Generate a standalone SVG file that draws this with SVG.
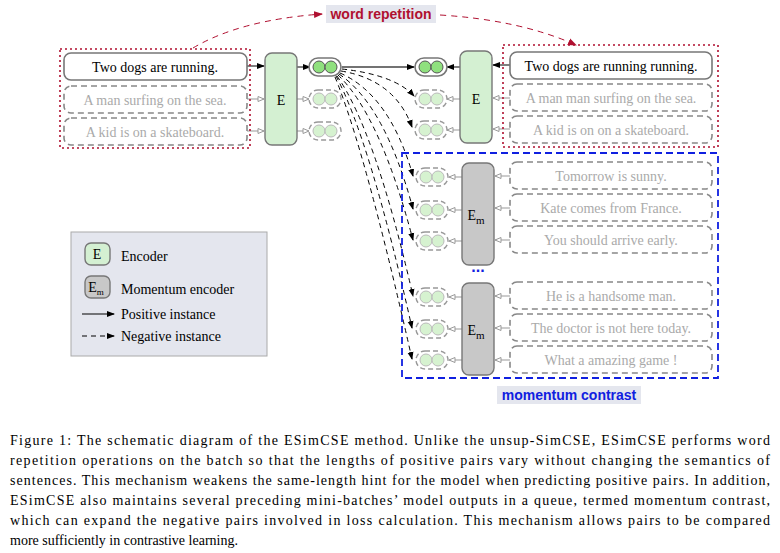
<svg xmlns="http://www.w3.org/2000/svg" xmlns:xlink="http://www.w3.org/1999/xlink" width="780" height="553" viewBox="0 0 780 553">
<style>
.s{font-family:"Liberation Serif",serif;font-size:14px;text-anchor:middle}
.sb{fill:#fff;stroke:#777;stroke-width:1.6}
.sd{fill:#fff;stroke:#888;stroke-width:1.6;stroke-dasharray:6,4}
.g{fill:#aaa}
.enc{fill:#d4f0d2;stroke:#777;stroke-width:1.4}
.em{fill:#c8c8c8;stroke:#777;stroke-width:1.4}
.cap{font-family:"Liberation Serif",serif;font-size:14px;fill:#000}
.sm{stroke:#888;stroke-width:1;fill:none}
</style>
<defs>
<marker id="ab" markerWidth="8" markerHeight="8" refX="7" refY="4" orient="auto" markerUnits="userSpaceOnUse"><path d="M0,1 L8,4 L0,7z" fill="#000"/></marker>
<marker id="ao" markerWidth="8" markerHeight="8" refX="7" refY="4" orient="auto" markerUnits="userSpaceOnUse"><path d="M1,1.5 L7,4 L1,6.5z" fill="#fff" stroke="#999"/></marker>
<marker id="ar" markerWidth="9" markerHeight="9" refX="8" refY="4.5" orient="auto" markerUnits="userSpaceOnUse"><path d="M0,1 L9,4.5 L0,8z" fill="#b01030"/></marker>
<g id="pp"><rect x="0" y="-9" width="32" height="18" rx="9" fill="#fff" stroke="#777" stroke-width="1.6"/><circle cx="10" cy="0" r="6" fill="#8fe07e" stroke="#555"/><circle cx="22" cy="0" r="6" fill="#8fe07e" stroke="#555"/></g>
<g id="pf"><rect x="0" y="-9" width="32" height="18" rx="9" fill="none" stroke="#999" stroke-width="1.4" stroke-dasharray="5,3"/><circle cx="10" cy="0" r="6" fill="#d6f2d0" stroke="#bbb"/><circle cx="22" cy="0" r="6" fill="#d6f2d0" stroke="#bbb"/></g>
</defs>
<rect width="780" height="553" fill="#fff"/>

<g id="connectors" fill="none">
<path d="M193,48 Q240,20 322,14" stroke="#b01030" stroke-dasharray="6,5" marker-end="url(#ar)"/>
<path d="M440,15 Q520,20 576,45" stroke="#b01030" stroke-dasharray="6,5" marker-end="url(#ar)"/>
<path d="M247,66 L264,66" stroke="#000" marker-end="url(#ab)"/>
<path d="M297,67 L310,67" stroke="#000" marker-end="url(#ab)"/>
<path d="M342,67 L414,67" stroke="#444" stroke-width="1.3" marker-end="url(#ab)"/>
<path d="M460,67 L447,67" stroke="#000" marker-end="url(#ab)"/>
<path d="M510,65 L493,65" stroke="#000" marker-end="url(#ab)"/>
<g stroke="#999"><path d="M247,99 L264,99" marker-end="url(#ao)"/><path d="M247,131 L264,131" marker-end="url(#ao)"/>
<path d="M297,99 L309,99" marker-end="url(#ao)"/><path d="M297,131 L309,131" marker-end="url(#ao)"/>
<path d="M460,99 L447,99" marker-end="url(#ao)"/><path d="M460,130 L447,130" marker-end="url(#ao)"/>
<path d="M510,98 L493,98" marker-end="url(#ao)"/><path d="M510,129 L493,129" marker-end="url(#ao)"/>
<path d="M462,177 L449,177" marker-end="url(#ao)"/><path d="M462,210 L449,210" marker-end="url(#ao)"/><path d="M462,241 L449,241" marker-end="url(#ao)"/>
<path d="M462,297 L449,297" marker-end="url(#ao)"/><path d="M462,329 L449,329" marker-end="url(#ao)"/><path d="M462,360 L449,360" marker-end="url(#ao)"/>
<path d="M510,176 L495,176" marker-end="url(#ao)"/><path d="M510,208 L495,208" marker-end="url(#ao)"/><path d="M510,240 L495,240" marker-end="url(#ao)"/>
<path d="M510,296 L495,296" marker-end="url(#ao)"/><path d="M510,328 L495,328" marker-end="url(#ao)"/><path d="M510,360 L495,360" marker-end="url(#ao)"/>
</g>
<g stroke="#000" stroke-dasharray="5,4">
<path d="M342,69 Q395,75 414,96" marker-end="url(#ab)"/>
<path d="M341,71 Q395,80 412,127" marker-end="url(#ab)"/>
<path d="M340,73 Q390,95 413,176" marker-end="url(#ab)"/>
<path d="M339,74 Q385,105 413,209" marker-end="url(#ab)"/>
<path d="M338,75 Q380,115 413,240" marker-end="url(#ab)"/>
<path d="M337,76 Q375,130 413,296" marker-end="url(#ab)"/>
<path d="M336,76 Q370,140 412,328" marker-end="url(#ab)"/>
<path d="M335,77 Q365,150 412,359" marker-end="url(#ab)"/>
</g>
</g>

<g id="word-repetition"><rect x="326" y="5" width="110" height="18" fill="#e4e6ee"/><text x="381" y="19" font-family="Liberation Sans,sans-serif" font-weight="bold" font-size="14" fill="#b01030" text-anchor="middle">word repetition</text></g>

<g id="left-batch">
<rect x="60" y="49" width="190" height="99" fill="none" stroke="#b01030" stroke-width="1.6" stroke-dasharray="2,3"/>
<rect class="sb" x="64" y="53" width="183" height="27" rx="7"/><text class="s" x="155" y="72">Two dogs are running.</text>
<rect class="sd" x="64" y="86" width="183" height="27" rx="7"/><text class="s g" x="155" y="105">A man surfing on the sea.</text>
<rect class="sd" x="64" y="118" width="183" height="27" rx="7"/><text class="s g" x="155" y="137">A kid is on a skateboard.</text>
</g>
<g id="encoder-left"><rect class="enc" x="265" y="53" width="32" height="92" rx="7"/><text class="s" x="281" y="105" font-size="20">E</text></g>
<g id="pairs-left"><use href="#pp" x="309" y="67"/><use href="#pf" x="309" y="99"/><use href="#pf" x="309" y="131"/></g>

<g id="pairs-right"><use href="#pp" x="415" y="67"/><use href="#pf" x="415" y="99"/><use href="#pf" x="415" y="130"/></g>
<g id="encoder-right"><rect class="enc" x="460" y="51" width="32" height="92" rx="7"/><text class="s" x="476" y="104" font-size="20">E</text></g>
<g id="right-batch">
<rect x="503" y="45" width="215" height="102" fill="none" stroke="#b01030" stroke-width="1.6" stroke-dasharray="2,3"/>
<rect class="sb" x="510" y="52" width="202" height="27" rx="7"/><text class="s" x="611" y="71">Two dogs are running running.</text>
<rect class="sd" x="510" y="84" width="202" height="27" rx="7"/><text class="s g" x="611" y="103">A man man surfing on the sea.</text>
<rect class="sd" x="510" y="116" width="202" height="27" rx="7"/><text class="s g" x="611" y="135">A kid is on on a skateboard.</text>
</g>

<g id="momentum">
<rect x="402" y="153" width="316" height="225" fill="none" stroke="#1020e0" stroke-width="1.8" stroke-dasharray="7,4"/>
<use href="#pf" x="416" y="177"/><use href="#pf" x="416" y="210"/><use href="#pf" x="416" y="241"/>
<use href="#pf" x="416" y="297"/><use href="#pf" x="416" y="329"/><use href="#pf" x="416" y="360"/>
<rect class="em" x="462" y="163" width="32" height="102" rx="7"/><text class="s" x="476" y="220" font-size="20">E<tspan font-size="11" dy="4">m</tspan></text>
<rect class="em" x="462" y="283" width="32" height="92" rx="7"/><text class="s" x="476" y="335" font-size="20">E<tspan font-size="11" dy="4">m</tspan></text>
<text x="478" y="272" font-family="Liberation Sans,sans-serif" font-weight="bold" font-size="16" fill="#1020e0" text-anchor="middle">...</text>
<rect class="sd" x="510" y="162" width="202" height="27" rx="7"/><text class="s g" x="611" y="181">Tomorrow is sunny.</text>
<rect class="sd" x="510" y="194" width="202" height="27" rx="7"/><text class="s g" x="611" y="213">Kate comes from France.</text>
<rect class="sd" x="510" y="226" width="202" height="27" rx="7"/><text class="s g" x="611" y="245">You should arrive early.</text>
<rect class="sd" x="510" y="282" width="202" height="27" rx="7"/><text class="s g" x="611" y="301">He is a handsome man.</text>
<rect class="sd" x="510" y="314" width="202" height="27" rx="7"/><text class="s g" x="611" y="333">The doctor is not here today.</text>
<rect class="sd" x="510" y="346" width="202" height="27" rx="7"/><text class="s g" x="611" y="365">What a amazing game !</text>
<rect x="497" y="386" width="144" height="18" fill="#e4e6ee"/><text x="569" y="400" font-family="Liberation Sans,sans-serif" font-weight="bold" font-size="14" fill="#1020e0" text-anchor="middle">momentum contrast</text>
</g>

<g id="legend">
<rect x="71" y="232" width="196" height="124" fill="#e4e6ee" stroke="#aaa"/>
<rect class="enc" x="85" y="243" width="25" height="22" rx="6"/><text class="s" x="97" y="259">E</text><text class="cap" x="121" y="261">Encoder</text>
<rect class="em" x="85" y="276" width="25" height="22" rx="6"/><text class="s" x="96" y="292">E<tspan font-size="9" dy="3">m</tspan></text><text class="cap" x="121" y="294">Momentum encoder</text>
<path d="M82,314 L114,314" stroke="#000" marker-end="url(#ab)"/><text class="cap" x="121" y="319">Positive instance</text>
<path d="M82,336 L114,336" stroke="#000" stroke-dasharray="5,4" marker-end="url(#ab)"/><text class="cap" x="121" y="341">Negative instance</text>
</g>

<g id="caption">
<text class="cap" x="10" y="445" textLength="760" lengthAdjust="spacing">Figure 1: The schematic diagram of the ESimCSE method. Unlike the unsup-SimCSE, ESimCSE performs word</text>
<text class="cap" x="10" y="465" textLength="760" lengthAdjust="spacing">repetition operations on the batch so that the lengths of positive pairs vary without changing the semantics of</text>
<text class="cap" x="10" y="485" textLength="760" lengthAdjust="spacing">sentences. This mechanism weakens the same-length hint for the model when predicting positive pairs. In addition,</text>
<text class="cap" x="10" y="505" textLength="760" lengthAdjust="spacing">ESimCSE also maintains several preceding mini-batches’ model outputs in a queue, termed momentum contrast,</text>
<text class="cap" x="10" y="525" textLength="760" lengthAdjust="spacing">which can expand the negative pairs involved in loss calculation. This mechanism allows pairs to be compared</text>
<text class="cap" x="10" y="545">more sufficiently in contrastive learning.</text>
</g>
</svg>
